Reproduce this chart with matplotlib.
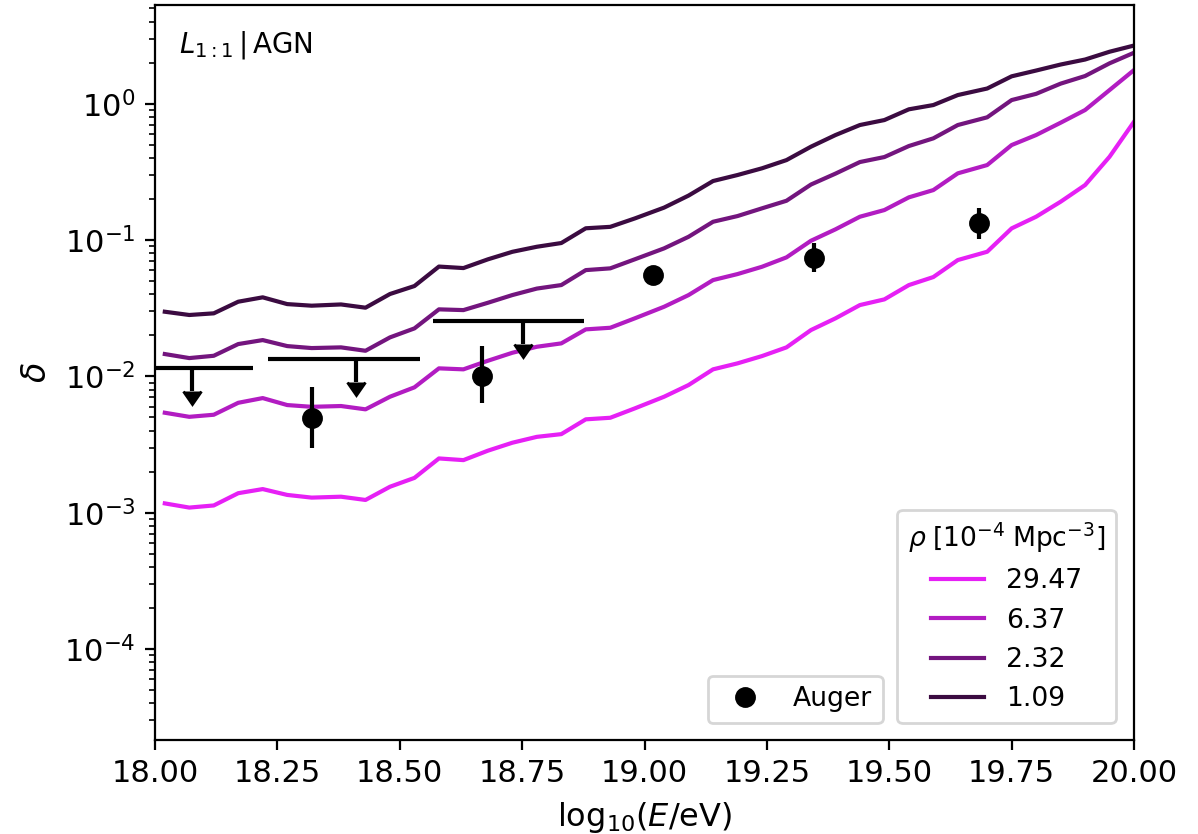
import numpy as np
import matplotlib.pyplot as plt

# energy grid, log10(E/eV)
log_e = [18.02, 18.07, 18.12, 18.17, 18.22, 18.27, 18.32, 18.38, 18.43, 18.48,
         18.53, 18.58, 18.63, 18.68, 18.73, 18.78, 18.83, 18.88, 18.93, 18.98,
         19.04, 19.09, 19.14, 19.19, 19.24, 19.29, 19.34, 19.39, 19.44, 19.49,
         19.54, 19.59, 19.64, 19.70, 19.75, 19.80, 19.85, 19.90, 19.95, 20.00]

delta_29 = [0.00117, 0.00109, 0.00113, 0.00139, 0.00149, 0.00135, 0.00129, 0.00131, 0.00124, 0.00155,
            0.00180, 0.00250, 0.00243, 0.00285, 0.00326, 0.00360, 0.00377, 0.00484, 0.00497, 0.00582,
            0.00709, 0.00864, 0.01126, 0.01246, 0.01409, 0.01632, 0.02186, 0.02664, 0.03335, 0.03671,
            0.04674, 0.05353, 0.07134, 0.08207, 0.1218, 0.1483, 0.191, 0.2532, 0.4085, 0.738]
delta_6 = [0.00541, 0.00505, 0.00523, 0.00640, 0.00693, 0.00616, 0.00598, 0.00606, 0.00573, 0.00709,
           0.00831, 0.01145, 0.01126, 0.01302, 0.01490, 0.01649, 0.01746, 0.02212, 0.02273, 0.02664,
           0.03241, 0.03949, 0.05087, 0.05630, 0.06369, 0.07464, 0.0988, 0.1198, 0.1483, 0.166,
           0.2057, 0.2326, 0.3086, 0.3550, 0.4977, 0.5894, 0.7255, 0.899, 1.260, 1.767]
delta_2 = [0.01458, 0.01362, 0.01416, 0.01726, 0.01846, 0.01668, 0.01613, 0.01632, 0.01541, 0.01932,
           0.02249, 0.03102, 0.03063, 0.03467, 0.03949, 0.04406, 0.04676, 0.0602, 0.0620, 0.0722,
           0.0869, 0.1057, 0.1362, 0.150, 0.1709, 0.1942, 0.2554, 0.3070, 0.3735, 0.4064,
           0.4894, 0.5573, 0.698, 0.795, 1.064, 1.182, 1.404, 1.597, 1.979, 2.367]
delta_1 = [0.0298, 0.0282, 0.0290, 0.0353, 0.0380, 0.0339, 0.0330, 0.0337, 0.0319, 0.0402,
           0.0460, 0.0639, 0.0623, 0.0722, 0.0820, 0.0893, 0.0951, 0.122, 0.125, 0.144,
           0.173, 0.212, 0.271, 0.300, 0.336, 0.386, 0.484, 0.589, 0.698, 0.759,
           0.910, 0.978, 1.158, 1.293, 1.589, 1.752, 1.939, 2.110, 2.407, 2.673]

densities = ['29.47', '6.37', '2.32', '1.09']
colors = ['#e620f5', '#b21cc2', '#73157e', '#3b0b41']

# Auger dipole amplitudes
auger_e = [18.32, 18.667, 19.018, 19.347, 19.683]
auger_d = [0.00497, 0.0101, 0.0554, 0.0742, 0.1326]
auger_lo = [0.00296, 0.0064, 0.0505, 0.0585, 0.1012]
auger_hi = [0.00839, 0.0167, 0.0605, 0.0946, 0.1709]

# Auger upper limits
ul_e = [18.075, 18.41, 18.751]
ul_d = [0.01145, 0.01339, 0.02558]
ul_left = [17.895, 18.231, 18.567]
ul_right = [18.20, 18.541, 18.876]

fig = plt.figure(figsize=(5.99, 4.17), dpi=200)
ax = fig.add_axes([0.1294, 0.1127, 0.8172, 0.8813])

lines = []
for d, c, lab in zip([delta_29, delta_6, delta_2, delta_1], colors, densities):
    l, = ax.plot(log_e, d, color=c, lw=1.5, label=lab)
    lines.append(l)

yerr = [np.array(auger_d) - np.array(auger_lo), np.array(auger_hi) - np.array(auger_d)]
ax.errorbar(auger_e, auger_d, yerr=yerr, fmt='none', ecolor='black',
            elinewidth=1.5, capsize=0)
pts, = ax.plot(auger_e, auger_d, 'o', color='black', ms=6.5, label='Auger')

ul_e = np.array(ul_e)
ul_d = np.array(ul_d)
xerr = [ul_e - np.array(ul_left), np.array(ul_right) - ul_e]
ax.errorbar(ul_e, ul_d, xerr=xerr, fmt='none', ecolor='black', elinewidth=1.5, capsize=0)
ax.errorbar(ul_e, ul_d, yerr=ul_d * 0.32, uplims=True, fmt='none', ecolor='black',
            color='black', elinewidth=1.5, capsize=3.2)

ax.set_yscale('log')
ax.set_xlim(18.0, 20.0)
ax.set_ylim(2.15e-5, 5.3)
ax.set_xticks([18.0, 18.25, 18.5, 18.75, 19.0, 19.25, 19.5, 19.75, 20.0])
ax.tick_params(labelsize=11)
ax.set_xlabel(r'$\mathrm{log}_{10}(E/\mathrm{eV})$', fontsize=11.5)
ax.set_ylabel(r'$\delta$', fontsize=12)

ax.text(0.025, 0.945, r'$L_{1:1}\,|\,$AGN', transform=ax.transAxes, fontsize=10,
        ha='left', va='center')

leg1 = ax.legend(handles=lines, title=r'$\rho\;[10^{-4}\;\mathrm{Mpc}^{-3}]$',
                 loc='lower right', fontsize=9.6, title_fontsize=9.6,
                 bbox_to_anchor=(0.995, 0.005))
ax.add_artist(leg1)
ax.legend(handles=[pts], loc='lower right', fontsize=9.6,
          bbox_to_anchor=(0.757, 0.005))

fig.savefig('out.png', dpi=200)
